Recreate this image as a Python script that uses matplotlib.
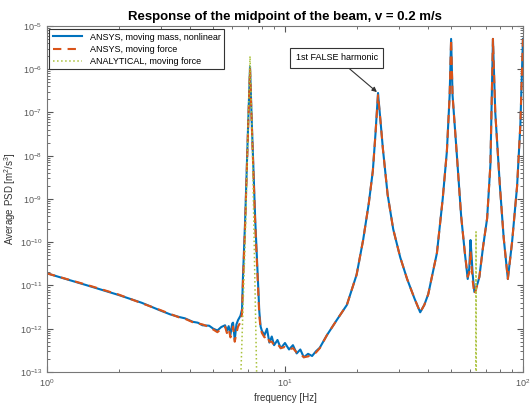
import numpy as np
import matplotlib
matplotlib.use("Agg")
import matplotlib.pyplot as plt

plt.rcParams['font.family'] = ['Liberation Sans', 'DejaVu Sans']
plt.rcParams['mathtext.fontset'] = 'custom'
plt.rcParams['mathtext.rm'] = 'Liberation Sans'

# frequency [Hz] and log10 of the average PSD
freq = [1.0, 1.5, 2.0, 2.5, 3.0, 3.3, 3.6, 3.8, 4.1, 4.3, 4.5, 4.8, 5.0, 5.2,
        5.4, 5.6, 5.7, 5.8, 5.9, 6.0, 6.05, 6.15, 6.25, 6.35, 6.5, 6.6, 6.65,
        6.8, 7.0, 7.13, 7.25, 7.5, 7.7, 7.8, 7.9, 8.0, 8.2, 8.4, 8.6, 8.8, 9.0,
        9.3, 9.6, 10.0, 10.4, 10.8, 11.2, 11.6, 12.0, 12.5, 13.0, 13.5, 14.0,
        15.0, 16.5, 18.2, 20.0, 21.3, 22.5, 23.4, 24.0, 24.6, 25.2, 25.8, 27.0,
        28.5, 30.5, 32.6, 35.0, 37.0, 38.5, 40.0, 43.5, 46.0, 47.9, 49.2, 49.9,
        50.6, 52.7, 55.0, 57.0, 58.6, 59.5, 60.2, 60.8, 61.5, 62.5, 63.5, 64.5,
        65.6, 68.0, 70.7, 73.0, 74.8, 76.5, 80.0, 83.0, 86.4, 90.0, 94.5, 97.5,
        100.0]

log_mass = [-10.72, -11.01, -11.22, -11.40, -11.58, -11.67, -11.73, -11.76,
            -11.84, -11.86, -11.92, -11.93, -12.00, -12.04, -11.96, -11.92,
            -12.05, -11.94, -12.14, -11.88, -11.86, -12.26, -11.90, -11.80,
            -11.70, -11.55, -10.90, -9.50, -7.30, -5.95, -7.20, -9.50, -10.90,
            -11.60, -11.95, -12.05, -12.15, -12.00, -12.32, -12.18, -12.38,
            -12.26, -12.45, -12.33, -12.48, -12.38, -12.57, -12.48, -12.66,
            -12.58, -12.63, -12.52, -12.44, -12.15, -11.80, -11.45, -10.75,
            -9.95, -9.10, -8.35, -7.50, -6.55, -7.20, -7.85, -8.90, -9.70,
            -10.35, -10.85, -11.30, -11.62, -11.45, -11.20, -10.25, -9.00,
            -7.90, -6.60, -5.30, -6.60, -7.95, -9.40, -10.25, -10.85, -10.60,
            -9.95, -10.30, -10.75, -11.15, -11.05, -10.95, -10.80, -10.10,
            -9.45, -8.20, -5.30, -7.00, -8.70, -9.90, -10.85, -10.00, -8.70,
            -7.30, -5.30]

log_force = [-10.72, -11.00, -11.21, -11.41, -11.57, -11.66, -11.74, -11.77,
             -11.85, -11.88, -11.90, -11.96, -12.02, -12.08, -12.00, -11.95,
             -12.10, -12.00, -12.20, -12.05, -11.95, -12.30, -12.10, -11.95,
             -11.85, -11.65, -11.05, -9.60, -7.35, -6.00, -7.25, -9.60, -11.00,
             -11.70, -12.00, -12.10, -12.20, -12.15, -12.30, -12.30, -12.38,
             -12.35, -12.45, -12.42, -12.48, -12.45, -12.55, -12.58, -12.66,
             -12.64, -12.60, -12.55, -12.45, -12.15, -11.80, -11.45, -10.75,
             -9.95, -9.10, -8.35, -7.50, -6.60, -7.20, -7.85, -8.90, -9.70,
             -10.35, -10.85, -11.30, -11.62, -11.45, -11.20, -10.25, -9.00,
             -7.90, -6.60, -5.30, -6.60, -7.95, -9.40, -10.25, -10.80, -10.70,
             -10.20, -10.55, -10.90, -11.20, -11.10, -10.95, -10.80, -10.10,
             -9.45, -8.20, -5.30, -7.00, -8.70, -9.90, -10.85, -10.00, -8.70,
             -7.30, -5.30]

freq_analytical = [6.3, 6.53, 6.8, 7.0, 7.13, 7.3, 7.45, 7.6, 7.8,
                   63.25, 63.5, 63.75]
log_analytical = [-15.0, -13.0, -10.0, -7.3, -5.7, -7.8, -10.5, -13.0, -15.0,
                  -15.0, -9.76, -15.0]

freq = np.array(freq)
psd_mass = np.power(10.0, log_mass)
psd_force = np.power(10.0, log_force)
psd_analytical = np.power(10.0, log_analytical)

fig = plt.figure(figsize=(5.3, 4.05), dpi=100)
ax = fig.add_axes([0.0887, 0.0815, 0.898, 0.8545])

ax.loglog(freq, psd_mass, color='#0072BD', lw=1.5, label='ANSYS, moving mass, nonlinear')
ax.loglog(freq, psd_force, color='#D95319', lw=1.5, ls=(0, (4, 3)), label='ANSYS, moving force')
ax.loglog(freq_analytical, psd_analytical, color='#A9C13A', lw=1.1, ls=':', label='ANALYTICAL, moving force')

ax.set_xlim(1, 100)
ax.set_ylim(1e-13, 1e-5)
ax.set_yticks([10.0 ** k for k in range(-13, -4)])

ax.tick_params(which='both', direction='in', top=True, right=True, colors='#555555', labelsize=6.5)
ax.tick_params(which='major', length=4)
ax.tick_params(which='minor', length=2)
for s in ax.spines.values():
    s.set_color('#777777')
    s.set_linewidth(0.8)

ax.set_title('Response of the midpoint of the beam, v = 0.2 m/s', fontsize=9.5, fontweight='bold', pad=4)
ax.set_xlabel('frequency [Hz]', fontsize=7, color='#333333', labelpad=3)
ax.set_ylabel('Average PSD [m$^2$/s$^3$]', fontsize=7, color='#333333', labelpad=1)

leg = ax.legend(loc='upper left', bbox_to_anchor=(0.005, 0.99), borderaxespad=0, fontsize=6.5,
                fancybox=False, edgecolor='#333333', framealpha=1, handlelength=3.3,
                labelspacing=0.35, borderpad=0.35)
leg.get_frame().set_linewidth(0.8)

# false harmonic peak between 20 and 30 Hz
sel = np.where((freq > 20) & (freq < 30))[0]
i_peak = sel[np.argmax(psd_mass[sel])]
ax.annotate('1st FALSE harmonic', xy=(freq[i_peak], psd_mass[i_peak]),
            xytext=(16.5, 10 ** -5.74), ha='center', va='center', fontsize=6.5,
            bbox=dict(boxstyle='square,pad=0.6', fc='white', ec='#333333', lw=0.8),
            arrowprops=dict(arrowstyle='-|>', color='#333333', lw=0.8, mutation_scale=7,
                            shrinkA=0, shrinkB=1))

fig.savefig('out.png', dpi=100)
